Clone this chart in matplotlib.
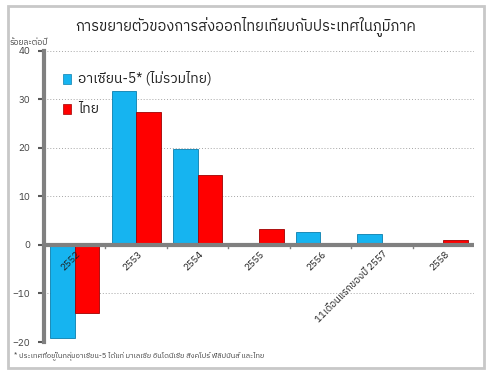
import matplotlib
matplotlib.use("Agg")
import matplotlib.pyplot as plt
from matplotlib import font_manager
from matplotlib.ft2font import FT2Font
from matplotlib.patches import Rectangle
import numpy as np

categories = ["2552", "2553", "2554", "2555", "2556", "11เดือนแรกของปี 2557", "2558"]
asean5 = [-19.2, 31.7, 19.7, -0.3, 2.7, 2.2, 0.0]
thai = [-14.0, 27.3, 14.5, 3.2, -0.3, -0.3, 1.0]
series_names = ["อาเซียน-5* (ไม่รวมไทย)", "ไทย"]
yticks = [-20, -10, 0, 10, 20, 30, 40]
title = "การขยายตัวของการส่งออกไทยเทียบกับประเทศในภูมิภาค"
ylabel = "ร้อยละต่อปี"
footnote = "* ประเทศที่อยู่ในกลุ่มอาเซียน-5 ได้แก่ มาเลเซีย อินโดนีเซีย สิงคโปร์ ฟิลิปปินส์ และไทย"

# find a font with Thai glyphs
thai_font = None
cands = []
for f in font_manager.fontManager.ttflist:
    try:
        cm = FT2Font(f.fname).get_charmap()
    except Exception:
        continue
    if 0x0E01 in cm and 0x0E40 in cm:
        cands.append(f.name)
pref = [n for n in cands if "Thai" in n and "Looped" not in n]
if pref:
    thai_font = sorted(pref)[0]
elif cands:
    thai_font = cands[0]
fams = ([thai_font] if thai_font else []) + ["DejaVu Sans"]
plt.rcParams['font.family'] = fams

fig = plt.figure(figsize=(4.97, 3.76), dpi=100)
fig.patch.set_facecolor("white")
# outer border
fig.add_artist(Rectangle((8/497, 1-368/376), (484-8)/497, (368-6)/376,
                         transform=fig.transFigure, fill=False,
                         edgecolor="#c8c8c8", linewidth=2))

ax = fig.add_axes([44/497, 1-342/376, (474-44)/497, (342-50.7)/376])
x = np.arange(len(categories))
w = 0.4
blue = "#16B4F0"
red = "#FF0000"
ax.bar(x - w/2, asean5, w, color=blue, edgecolor="#0a7fae", linewidth=0.6, zorder=3)
ax.bar(x + w/2, thai, w, color=red, edgecolor="#a00000", linewidth=0.6, zorder=3)

ax.set_xlim(-0.5, len(categories) - 0.5)
ax.set_ylim(-20, 40)
ax.set_yticks(yticks)
ax.tick_params(axis='y', labelsize=7, colors="#595959", length=4, width=1.5, pad=6)
for lab in ax.get_yticklabels():
    lab.set_color("#404040")
ax.yaxis.grid(True, linestyle=(0, (1, 2)), color="#a6a6a6", linewidth=0.7, zorder=0)
for s in ["top", "right", "bottom"]:
    ax.spines[s].set_visible(False)
ax.spines["left"].set_color("#808080")
ax.spines["left"].set_linewidth(3)
ax.axhline(0, color="#808080", linewidth=3, zorder=4)
ax.set_xticks([])
# category boundary ticks along the zero line
for b in np.arange(0.5, len(categories) - 0.5, 1.0):
    ax.plot([b, b], [0, -0.6], color="#808080", linewidth=1, zorder=4)

for i, c in enumerate(categories):
    ax.text(i + 0.07, -1.6, c, rotation=45, rotation_mode="anchor",
            ha="right", va="center", fontsize=7, color="#202020", zorder=5)

# legend
ax.add_patch(Rectangle((0.044, 0.887), 0.019, 0.034, transform=ax.transAxes,
                       facecolor=blue, edgecolor="#0a7fae", linewidth=0.5, zorder=6))
ax.text(0.079, 0.904, series_names[0], transform=ax.transAxes, fontsize=10,
        va="center", ha="left", color="#202020")
ax.add_patch(Rectangle((0.044, 0.784), 0.019, 0.034, transform=ax.transAxes,
                       facecolor=red, edgecolor="#a00000", linewidth=0.5, zorder=6))
ax.text(0.079, 0.801, series_names[1], transform=ax.transAxes, fontsize=10,
        va="center", ha="left", color="#202020")

fig.text(246/497, 1-27/376, title, fontsize=10.5, ha="center", va="center", color="#202020")
fig.text(10/497, 1-43/376, ylabel, fontsize=6, ha="left", va="center", color="#404040")
fig.text(14/497, 1-356/376, footnote, fontsize=5.3, ha="left", va="center", color="#404040")

fig.savefig("out.png", dpi=100, facecolor="white")
